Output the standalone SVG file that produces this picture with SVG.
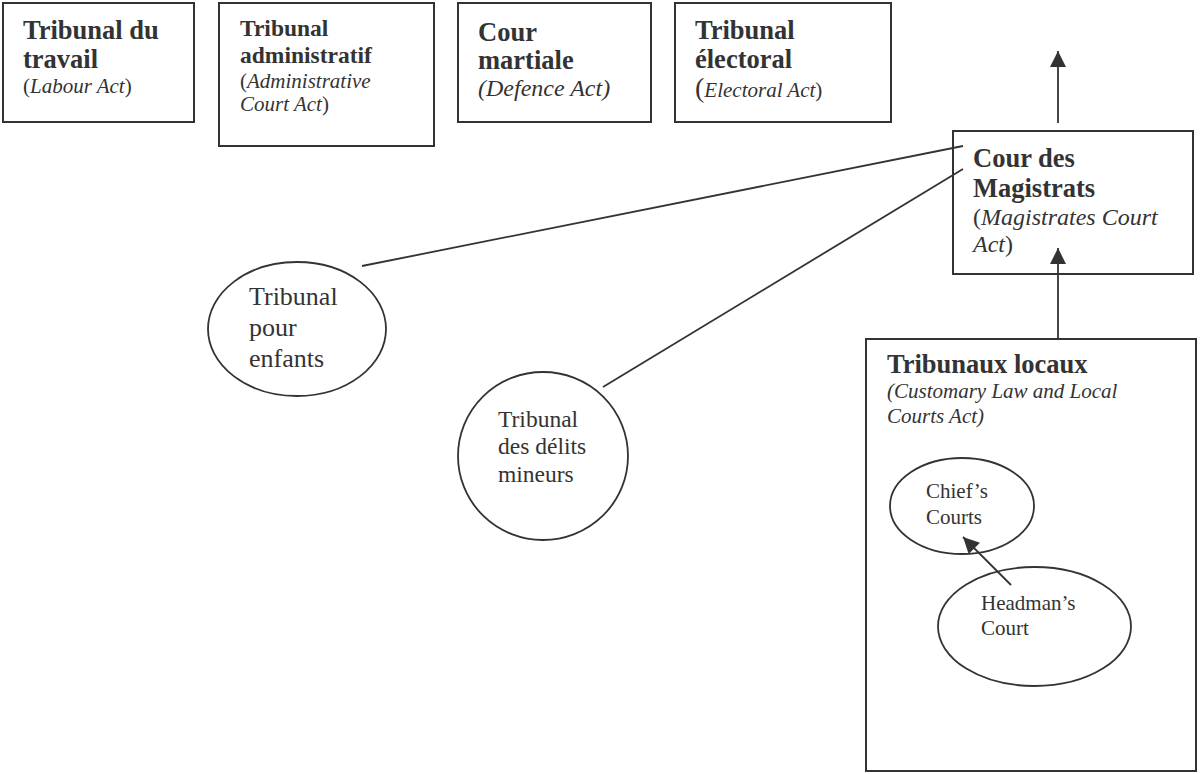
<svg xmlns="http://www.w3.org/2000/svg" width="1202" height="774" viewBox="0 0 1202 774">
<style>
text{font-family:"Liberation Serif","Times New Roman",serif;fill:#333;}
.b{font-weight:bold;font-size:26.5px;}
.i{font-style:italic;font-size:21px;}
.r{font-size:21px;}
.box{fill:#fff;stroke:#333;stroke-width:2;}
.ell{fill:#fff;stroke:#333;stroke-width:1.8;}
.ln{stroke:#333;stroke-width:1.8;fill:none;}
</style>
<defs>
<marker id="ah" markerWidth="10" markerHeight="10" viewBox="0 0 10 10" refX="10" refY="5" orient="auto" markerUnits="userSpaceOnUse" style="overflow:visible">
<path d="M0,0 L10,5 L0,10 Z" fill="#333" transform="scale(1.6)" transform-origin="10 5"/>
</marker>
</defs>
<rect x="0" y="0" width="1202" height="774" fill="#fff"/>
<g id="tribunal-travail">
<rect class="box" x="3" y="3" width="191" height="119"/>
<text class="b" x="23" y="39">Tribunal du</text>
<text class="b" x="23" y="68">travail</text>
<text class="r" x="23" y="93">(<tspan font-style="italic">Labour Act</tspan>)</text>
</g>
<g id="tribunal-administratif">
<rect class="box" x="219" y="3" width="215" height="143"/>
<text class="b" x="240" y="36" style="font-size:23.5px">Tribunal</text>
<text class="b" x="240" y="63" style="font-size:23.5px">administratif</text>
<text class="r" x="240" y="88">(<tspan font-style="italic">Administrative</tspan></text>
<text class="r" x="240" y="111"><tspan font-style="italic">Court Act</tspan>)</text>
</g>
<g id="cour-martiale">
<rect class="box" x="458" y="3" width="193" height="119"/>
<text class="b" x="478" y="41">Cour</text>
<text class="b" x="478" y="69">martiale</text>
<text class="i" x="478" y="96" style="font-size:24px">(Defence Act)</text>
</g>
<g id="tribunal-electoral">
<rect class="box" x="675" y="3" width="216" height="119"/>
<text class="b" x="695" y="39">Tribunal</text>
<text class="b" x="695" y="68">électoral</text>
<text class="r" x="695" y="97"><tspan style="font-size:28px">(</tspan><tspan font-style="italic">Electoral Act</tspan>)</text>
</g>
<g id="cour-magistrats">
<rect class="box" x="953" y="131" width="240" height="143"/>
<text class="b" x="973" y="167">Cour des</text>
<text class="b" x="973" y="197">Magistrats</text>
<text x="973" y="225" style="font-size:24px">(<tspan font-style="italic">Magistrates Court</tspan></text>
<text x="973" y="252" style="font-size:24px"><tspan font-style="italic">Act</tspan>)</text>
</g>
<g id="tribunaux-locaux">
<rect class="box" x="866" y="339" width="330" height="432"/>
<text class="b" x="887" y="373">Tribunaux locaux</text>
<text class="i" x="887" y="398">(Customary Law and Local</text>
<text class="i" x="887" y="423">Courts Act)</text>
</g>
<g id="tribunal-enfants">
<ellipse class="ell" cx="297" cy="329" rx="89" ry="67"/>
<text x="249" y="305" style="font-size:26px">Tribunal</text>
<text x="249" y="336" style="font-size:26px">pour</text>
<text x="249" y="367" style="font-size:26px">enfants</text>
</g>
<g id="tribunal-delits">
<ellipse class="ell" cx="543" cy="456" rx="85" ry="84"/>
<text x="498" y="427" style="font-size:23.5px">Tribunal</text>
<text x="498" y="454" style="font-size:23.5px">des délits</text>
<text x="498" y="482" style="font-size:23.5px">mineurs</text>
</g>
<g id="chiefs-courts">
<ellipse class="ell" cx="962" cy="506" rx="72" ry="48"/>
<text class="r" x="926" y="498">Chief’s</text>
<text class="r" x="926" y="524">Courts</text>
</g>
<g id="headmans-court">
<ellipse class="ell" cx="1034.5" cy="626.5" rx="96.5" ry="59.5"/>
<text class="r" x="981" y="610">Headman’s</text>
<text class="r" x="981" y="635">Court</text>
</g>
<g id="connectors">
<line class="ln" x1="1058" y1="123" x2="1058" y2="51" marker-end="url(#ah)"/>
<line class="ln" x1="1058" y1="339" x2="1058" y2="248" marker-end="url(#ah)"/>
<line class="ln" x1="362" y1="266" x2="963" y2="146"/>
<line class="ln" x1="603" y1="387" x2="963" y2="169"/>
<line class="ln" x1="1011" y1="585" x2="963" y2="537" marker-end="url(#ah)"/>
</g>
</svg>
